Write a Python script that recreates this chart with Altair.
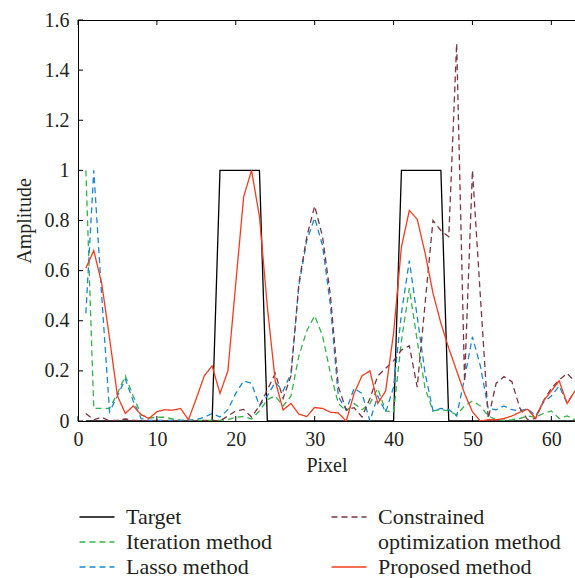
import altair as alt
import pandas as pd

pixels = list(range(1, 64))

target = [0, 0, 0, 0, 0, 0, 0, 0, 0, 0,
          0, 0, 0, 0, 0, 0, 0, 1, 1, 1,
          1, 1, 1, 0, 0, 0, 0, 0, 0, 0,
          0, 0, 0, 0, 0, 0, 0, 0, 0, 0,
          1, 1, 1, 1, 1, 1, 0, 0, 0, 0,
          0, 0, 0, 0, 0, 0, 0, 0, 0, 0,
          0, 0, 0]

iteration = [1.0, 0.05, 0.05, 0.05, 0.11, 0.18, 0.10, 0.025, 0.012, 0.015,
             0.015, 0.008, 0.003, 0.002, 0.002, 0.002, 0.003, 0.002, 0.005, 0.015,
             0.018, 0.008, 0.04, 0.085, 0.10, 0.06, 0.10, 0.26, 0.36, 0.42,
             0.34, 0.19, 0.07, 0.04, 0.07, 0.045, 0.07, 0.13, 0.04, 0.035,
             0.32, 0.53, 0.32, 0.13, 0.04, 0.046, 0.04, 0.025, 0.06, 0.08,
             0.06, 0.02, 0.005, 0.003, 0.005, 0.01, 0.02, 0.015, 0.03, 0.04,
             0.01, 0.02, 0.005]

lasso = [0.43, 1.0, 0.5, 0.037, 0.10, 0.167, 0.08, 0.01, 0.003, 0.002,
         0.002, 0.002, 0.002, 0.003, 0.005, 0.015, 0.03, 0.016, 0.045, 0.11,
         0.16, 0.15, 0.06, 0.10, 0.155, 0.12, 0.19, 0.54, 0.72, 0.81,
         0.70, 0.46, 0.097, 0.044, 0.13, 0.11, 0.0, 0.1, 0.035, 0.135,
         0.43, 0.64, 0.416, 0.19, 0.04, 0.05, 0.046, 0.02, 0.17, 0.336,
         0.22, 0.05, 0.045, 0.06, 0.045, 0.04, 0.05, 0.02, 0.075, 0.10,
         0.14, 0.07, 0.12]

constrained = [0.03, 0.005, 0.015, 0.0, 0.003, 0.008, 0.003, 0.0, 0.0, 0.002,
               0.0, 0.0, 0.002, 0.0, 0.0, 0.002, 0.003, 0.0, 0.02, 0.04,
               0.046, 0.016, 0.06, 0.124, 0.19, 0.09, 0.18, 0.55, 0.735, 0.858,
               0.735, 0.50, 0.137, 0.044, 0.053, 0.016, 0.09, 0.18, 0.21, 0.24,
               0.283, 0.30, 0.135, 0.47, 0.80, 0.76, 0.735, 1.507, 0.157, 1.0,
               0.5, 0.01, 0.15, 0.177, 0.157, 0.052, 0.005, 0.01, 0.08, 0.13,
               0.164, 0.19, 0.157]

proposed = [0.61, 0.68, 0.55, 0.33, 0.10, 0.03, 0.06, 0.025, 0.01, 0.037,
            0.045, 0.043, 0.05, 0.005, 0.09, 0.18, 0.22, 0.11, 0.20, 0.55,
            0.895, 1.0, 0.815, 0.456, 0.16, 0.044, 0.07, 0.027, 0.018, 0.054,
            0.05, 0.035, 0.032, 0.0, 0.11, 0.18, 0.20, 0.07, 0.12, 0.35,
            0.695, 0.84, 0.805, 0.67, 0.51, 0.39, 0.29, 0.20, 0.11, 0.037,
            0.0, 0.005, 0.005, 0.01, 0.02, 0.035, 0.047, 0.01, 0.08, 0.12,
            0.16, 0.07, 0.12]

series_names = ["Target", "Iteration method", "Lasso method",
                "Constrained optimization method", "Proposed method"]
series_values = [target, iteration, lasso, constrained, proposed]

x_ticks = [0, 10, 20, 30, 40, 50, 60]
y_ticks = [0, 0.2, 0.4, 0.6, 0.8, 1, 1.2, 1.4, 1.6]

# legend entries (column-major: Target, Iteration, Lasso | Constrained, (wrap), Proposed)
legend_domain = ["Target", "Iteration method", "Lasso method",
                 "Constrained optimization method", "optimization method", "Proposed method"]
legend_colors = ["#000000", "#35b24a", "#1a86d0", "#7b3540", "rgba(0,0,0,0)", "#f23c1e"]
legend_dashes = [[1, 0], [6, 4], [6, 4], [6, 4], [1, 0], [1, 0]]

rows = []
for name, vals in zip(series_names, series_values):
    for p, v in zip(pixels, vals):
        rows.append({"pixel": p, "amp": v, "series": name})
df = pd.DataFrame(rows)

FONT = "Liberation Serif"
TXT = "#231f20"
W, H = 497, 401

legend = alt.Legend(
    title=None, orient="none", legendX=8, legendY=486, direction="vertical",
    columns=2, columnPadding=55, rowPadding=3, padding=0,
    symbolType="M-3,0H3", symbolSize=136, symbolStrokeWidth=1.5,
    labelFontSize=22, labelFont=FONT, labelColor=TXT, labelOffset=18, labelLimit=0,
    labelExpr="datum.label == 'Constrained optimization method' ? 'Constrained' : datum.label",
)

xaxis = alt.Axis(values=x_ticks, title="Pixel", ticks=False, tickSize=0, grid=False,
                 labelPadding=8, labelFontSize=20, labelFont=FONT, labelColor=TXT,
                 labelFlush=False, titleFontSize=20, titleFont=FONT, titleColor=TXT,
                 titleFontWeight="normal", titlePadding=6, domainColor="black")
yaxis = alt.Axis(values=y_ticks, format=".2~f", title="Amplitude", ticks=False, tickSize=0,
                 grid=False, labelPadding=9, labelFontSize=20, labelFont=FONT, labelColor=TXT,
                 labelFlush=False, titleFontSize=20, titleFont=FONT, titleColor=TXT,
                 titleFontWeight="normal", titlePadding=10, domainColor="black")

xs = alt.Scale(domain=[0, 63], nice=False, zero=False)
ys = alt.Scale(domain=[0, 1.6], nice=False)

base = alt.Chart(df).encode(
    x=alt.X("pixel:Q", scale=xs, axis=xaxis),
    y=alt.Y("amp:Q", scale=ys, axis=yaxis),
    color=alt.Color("series:N", scale=alt.Scale(domain=legend_domain, range=legend_colors), legend=legend),
    strokeDash=alt.StrokeDash("series:N", scale=alt.Scale(domain=legend_domain, range=legend_dashes), legend=legend),
)

line_layers = [
    base.transform_filter(alt.datum.series == s).mark_line(strokeWidth=1.3, clip=True)
    for s in series_names
]

xt_df = pd.DataFrame({"pixel": x_ticks})
yt_df = pd.DataFrame({"amp": y_ticks})
tick_bottom = alt.Chart(xt_df).mark_rule(color="black", strokeWidth=1).encode(
    x=alt.X("pixel:Q", scale=xs, axis=xaxis), y=alt.value(H), y2=alt.value(H - 5))
tick_top = alt.Chart(xt_df).mark_rule(color="black", strokeWidth=1).encode(
    x=alt.X("pixel:Q", scale=xs, axis=xaxis), y=alt.value(0), y2=alt.value(5))
tick_left = alt.Chart(yt_df).mark_rule(color="black", strokeWidth=1).encode(
    y=alt.Y("amp:Q", scale=ys, axis=yaxis), x=alt.value(0), x2=alt.value(5))

chart = alt.layer(*line_layers, tick_bottom, tick_top, tick_left).properties(
    width=W, height=H,
    padding={"left": 78, "top": 20, "right": 0, "bottom": 157},
    autosize="none",
    background="white",
).configure_view(stroke="black", strokeWidth=1)

chart.save("out.html", embed_options={"renderer": "svg", "actions": False})
